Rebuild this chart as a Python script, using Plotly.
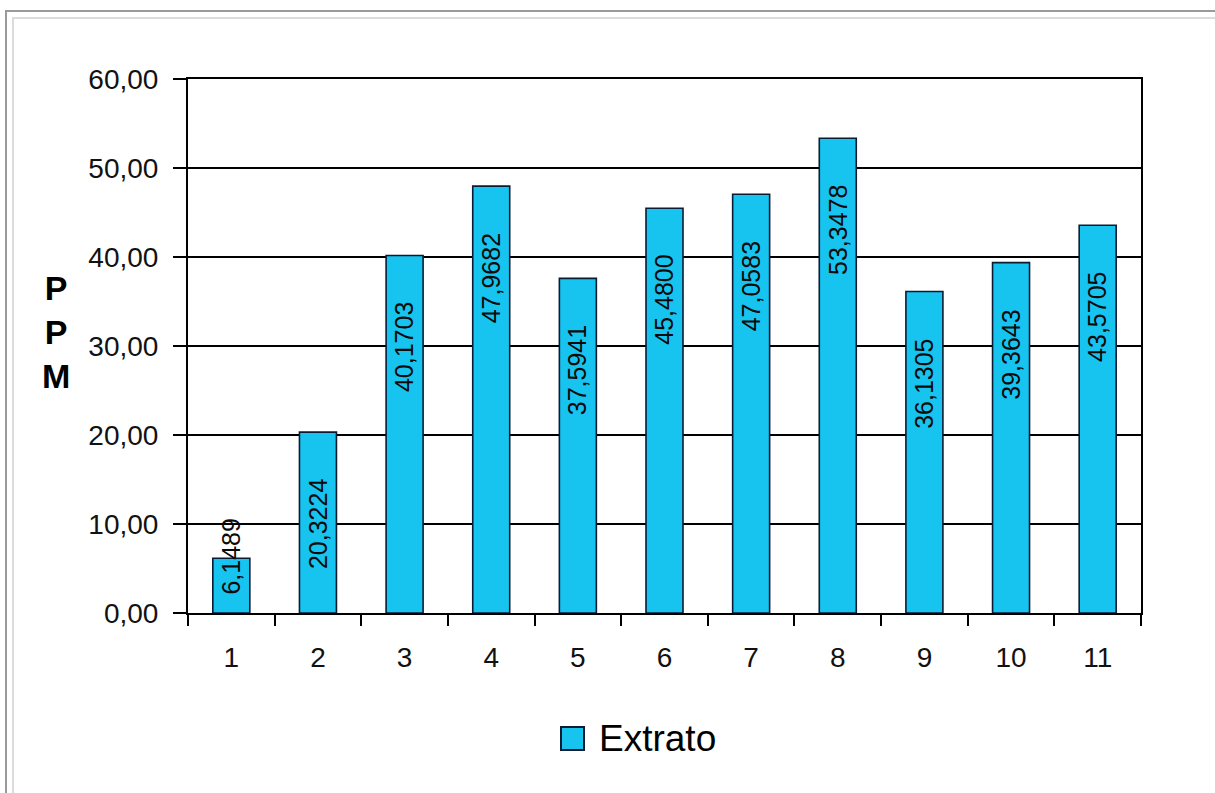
import plotly.graph_objects as go

categories = ["1", "2", "3", "4", "5", "6", "7", "8", "9", "10", "11"]
extrato = [6.1489, 20.3224, 40.1703, 47.9682, 37.5941, 45.4800, 47.0583, 53.3478, 36.1305, 39.3643, 43.5705]
y_ticks = [0, 10, 20, 30, 40, 50, 60]
series_name = "Extrato"
y_title = "P<br>P<br>M"

W, H = 1215, 793
L, R, T, B = 188, 74, 79, 180
pw, ph = W - L - R, H - T - B

def px_x(p):
    return (p - L) / pw

def px_y(p):
    return 1 - (p - T) / ph

FONT = "Arial, Liberation Sans, sans-serif"
BAR = "#17C3EF"
EDGE = "#0b1b33"

fig = go.Figure()
fig.add_trace(go.Bar(
    x=categories, y=extrato, name=series_name,
    marker=dict(color=BAR, line=dict(color=EDGE, width=1.6)),
    showlegend=False, hoverinfo="x+y",
))

annotations = []
for i, v in enumerate(extrato):
    txt = f"{v:.4f}".replace(".", ",")
    shift = -92 if v > 15 else 2
    annotations.append(dict(x=i, y=v, xref="x", yref="y", text=txt, textangle=-90,
                            showarrow=False, yanchor="middle", yshift=shift,
                            font=dict(family=FONT, size=25, color="#0a0a0a")))

# y-axis title (stacked letters)
annotations.append(dict(x=px_x(56), y=px_y(332), xref="paper", yref="paper", text="<b>" + y_title + "</b>",
                        showarrow=False, xanchor="center", yanchor="middle",
                        font=dict(family=FONT, size=34, color="#000")))
# legend (manual)
annotations.append(dict(x=px_x(597), y=px_y(738), xref="paper", yref="paper", text=series_name,
                        showarrow=False, xanchor="left", yanchor="middle",
                        font=dict(family=FONT, size=37, color="#000")))

shapes = [
    dict(type="rect", xref="paper", yref="paper", x0=px_x(6), x1=px_x(1240), y0=px_y(820), y1=px_y(11),
         line=dict(color="#9a9a9a", width=2), layer="below"),
    dict(type="rect", xref="paper", yref="paper", x0=px_x(13), x1=px_x(1240), y0=px_y(820), y1=px_y(18),
         line=dict(color="#dcdce0", width=2), layer="below"),
    dict(type="rect", xref="paper", yref="paper", x0=px_x(561), x1=px_x(584), y0=px_y(750), y1=px_y(727),
         fillcolor=BAR, line=dict(color=EDGE, width=2)),
]

fig.update_layout(
    width=W, height=H,
    margin=dict(l=L, r=R, t=T, b=B, pad=0),
    paper_bgcolor="white", plot_bgcolor="white",
    separators=",.",
    bargap=0.573,
    font=dict(family=FONT, size=28, color="#111"),
    annotations=annotations, shapes=shapes,
    showlegend=False,
)
fig.update_xaxes(
    type="category", categoryorder="array", categoryarray=categories,
    range=[-0.5, len(categories) - 0.5],
    showline=True, linecolor="#000", linewidth=2, mirror=True,
    ticks="outside", ticklen=11, tickwidth=2, tickcolor="#000", tickson="boundaries",
    showgrid=False, tickfont=dict(family=FONT, size=28, color="#111"),
    ticklabelstandoff=18,
)
fig.update_yaxes(
    range=[0, 60], tickvals=y_ticks, tickformat=".2f",
    showline=True, linecolor="#000", linewidth=2, mirror=True,
    ticks="outside", ticklen=13, tickwidth=2, tickcolor="#000",
    showgrid=True, gridcolor="#000", gridwidth=2, zeroline=False,
    tickfont=dict(family=FONT, size=28, color="#111"),
    ticklabelstandoff=9,
)

fig.write_html("out.html")
